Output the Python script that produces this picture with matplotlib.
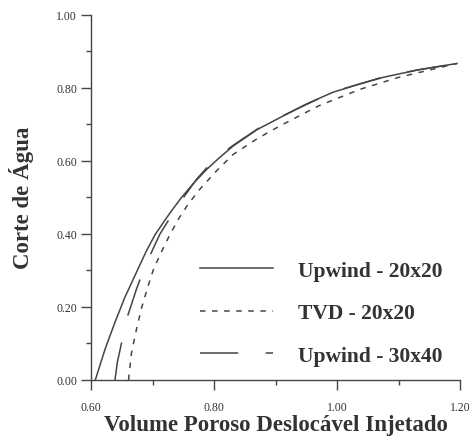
import numpy as np
import matplotlib
matplotlib.use("Agg")
import matplotlib.pyplot as plt
from matplotlib.ticker import MultipleLocator, FormatStrFormatter

# curvas
x_up20 = [0.607, 0.623, 0.639, 0.655, 0.674, 0.690, 0.704, 0.718, 0.731, 0.747, 0.766, 0.788, 0.810, 0.831, 0.870, 0.912, 0.950, 0.993, 1.035, 1.075, 1.130, 1.195]
y_up20 = [0.000, 0.085, 0.158, 0.226, 0.295, 0.353, 0.397, 0.432, 0.463, 0.499, 0.537, 0.576, 0.610, 0.640, 0.685, 0.722, 0.755, 0.787, 0.809, 0.828, 0.848, 0.866]

x_tvd = [0.661, 0.666, 0.674, 0.682, 0.693, 0.701, 0.712, 0.726, 0.742, 0.758, 0.777, 0.804, 0.831, 0.870, 0.907, 0.970, 1.037, 1.100, 1.195]
y_tvd = [0.000, 0.076, 0.139, 0.196, 0.258, 0.300, 0.342, 0.390, 0.440, 0.481, 0.522, 0.572, 0.617, 0.660, 0.695, 0.750, 0.795, 0.828, 0.866]

x_up30 = [0.639, 0.643, 0.650, 0.658, 0.674, 0.688, 0.712, 0.740, 0.772, 0.800, 0.831, 0.870, 0.912, 0.993, 1.075, 1.130, 1.195]
y_up30 = [0.000, 0.050, 0.104, 0.167, 0.249, 0.312, 0.399, 0.475, 0.550, 0.603, 0.642, 0.686, 0.723, 0.788, 0.829, 0.848, 0.866]

labels = ["Upwind - 20x20", "TVD - 20x20", "Upwind - 30x40"]

cor = "#454545"
serif = ["Liberation Serif", "DejaVu Serif"]

fig = plt.figure(figsize=(4.73, 4.39), dpi=100)
ax = fig.add_axes([91/473, 1-381/439, 369/473, 365.5/439])

ax.plot(x_up20, y_up20, color=cor, lw=1.1, label=labels[0])
ax.plot(x_tvd, y_tvd, color=cor, lw=1.1, dashes=(3.6, 4.3), label=labels[1])
ax.plot(x_up30, y_up30, color=cor, lw=1.1, dashes=(25, 18), label=labels[2])

ax.set_xlim(0.6, 1.2)
ax.set_ylim(0.0, 1.0)
ax.spines["top"].set_visible(False)
ax.spines["right"].set_visible(False)
for s in ["left", "bottom"]:
    ax.spines[s].set_color(cor)
    ax.spines[s].set_linewidth(1.0)

ax.xaxis.set_major_locator(MultipleLocator(0.2))
ax.xaxis.set_minor_locator(MultipleLocator(0.1))
ax.yaxis.set_major_locator(MultipleLocator(0.2))
ax.yaxis.set_minor_locator(MultipleLocator(0.1))
ax.xaxis.set_major_formatter(FormatStrFormatter("%.2f"))
ax.yaxis.set_major_formatter(FormatStrFormatter("%.2f"))
ax.tick_params(which="major", length=7, width=1.0, color=cor, labelsize=8.5, labelcolor="#333333")
ax.tick_params(which="minor", length=3.5, width=1.0, color=cor)
ax.tick_params(axis="x", which="major", pad=8)
ax.tick_params(axis="y", which="major", pad=3)
for t in ax.get_xticklabels() + ax.get_yticklabels():
    t.set_family(serif)

ax.set_xlabel("Volume Poroso Deslocável Injetado", family=serif, fontsize=16.5,
              fontweight="bold", color="#333333", labelpad=1)
ax.set_ylabel("Corte de Água", family=serif, fontsize=16.5, fontweight="bold",
              color="#333333")
ax.yaxis.set_label_coords(-0.155, 0.5)

leg = ax.legend(loc="upper left", bbox_to_anchor=(200/473, 1-261.5/439),
                bbox_transform=fig.transFigure, frameon=False, borderpad=0,
                borderaxespad=0, handlelength=3.4, handletextpad=1.15,
                labelspacing=1.05, prop={"family": serif, "size": 15.5, "weight": "bold"})
for t in leg.get_texts():
    t.set_color("#333333")

fig.savefig("out.png", dpi=100)
